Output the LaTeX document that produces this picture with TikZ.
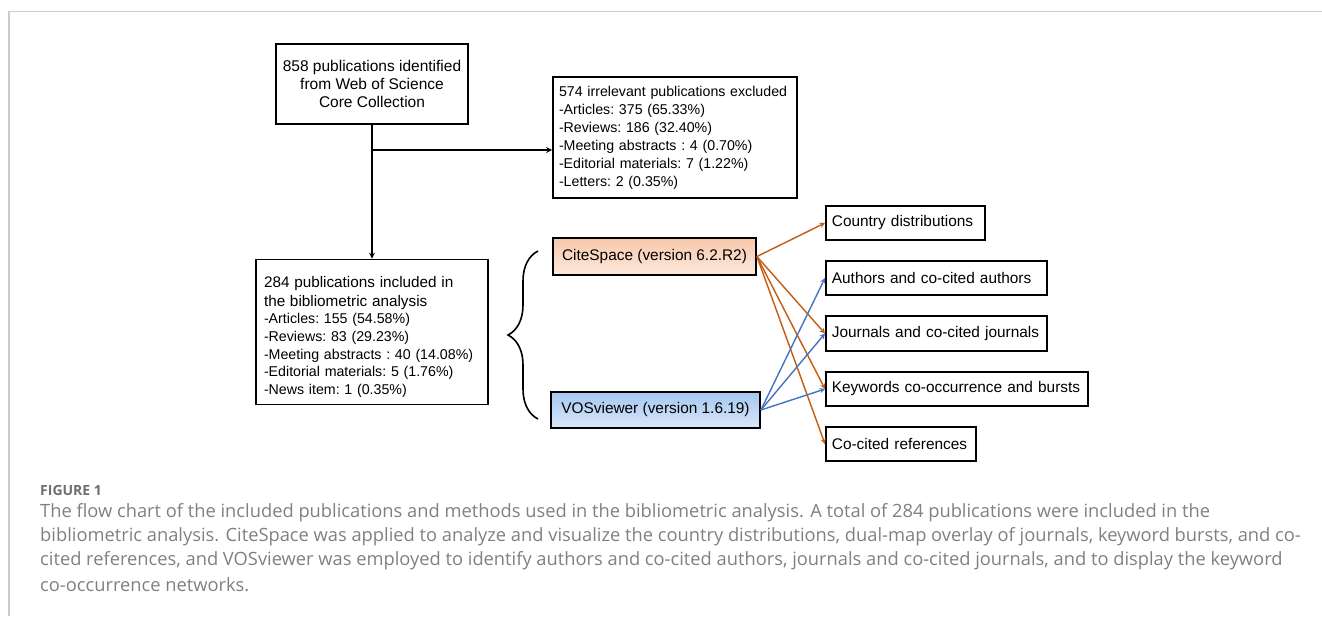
\documentclass[tikz,border=0pt]{standalone}
\usepackage{fontspec}
\setmainfont{Liberation Sans}
\newfontfamily\capfont{Open Sans}
\usetikzlibrary{arrows,positioning,decorations.pathreplacing}
\usepackage{xcolor}
\definecolor{csorange}{RGB}{197,90,17}
\definecolor{vosblue}{RGB}{68,114,196}
\definecolor{cstop}{RGB}{248,200,172}
\definecolor{csbot}{RGB}{252,232,220}
\definecolor{vostop}{RGB}{165,199,240}
\definecolor{vosbot}{RGB}{216,231,250}
\definecolor{capgray}{RGB}{128,128,128}
\definecolor{figgray}{RGB}{110,110,110}
\definecolor{framegray}{RGB}{204,204,204}
\newcommand{\boxfont}{\frenchspacing\hyphenpenalty=10000\relax\fontsize{15.4}{17.5}\selectfont}
\newcommand{\listfont}{\frenchspacing\hyphenpenalty=10000\relax\fontsize{14.2}{17.6}\selectfont}
\newcommand{\headfont}{\fontsize{15.3}{17.6}\selectfont}
\tikzstyle{box} = [draw, line width=1.8pt, inner xsep=6pt, inner ysep=0pt, font=\boxfont]
\tikzstyle{arrow} = [line width=1.6pt,->,>=stealth]
\tikzstyle{csarrow} = [line width=1.4pt,->,>=stealth,color=csorange]
\tikzstyle{vosarrow} = [line width=1.4pt,->,>=stealth,color=vosblue]
\tikzstyle{capline} = [anchor=west, inner sep=0pt, text=capgray, font=\capfont\fontsize{18.3}{18.3}\selectfont]

\begin{document}
\begin{tikzpicture}[x=1pt,y=-1pt]
\useasboundingbox (0,0) rectangle (1322,616);
% frame
\draw[framegray, line width=1.2pt] (9,616) -- (9,11.5) -- (1322,11.5);

% flow chart
\node[box, align=center, minimum width=192pt, minimum height=80pt, font=\boxfont\fontsize{15.5}{18}\selectfont] (found) at (372,84)
  {858 publications identified\\from Web of Science\\Core Collection};
\node[box, align=left, text width=232pt, minimum height=121pt, font=\listfont\fontsize{14.2}{18}\selectfont] (excl) at (675,137.5)
  {574 irrelevant publications excluded\\-Articles: 375 (65.33\%)\\-Reviews: 186 (32.40\%)\\-Meeting abstracts : 4 (0.70\%)\\-Editorial materials: 7 (1.22\%)\\-Letters: 2 (0.35\%)};
\node[box, align=left, text width=216pt, minimum height=145pt, inner xsep=8pt, font=\listfont] (incl) at (372,332)
  {{\headfont\rule{0pt}{21pt}284 publications included in}\\[1pt]{\headfont the bibliometric analysis}\\-Articles: 155 (54.58\%)\\-Reviews: 83 (29.23\%)\\-Meeting abstracts : 40 (14.08\%)\\-Editorial materials: 5 (1.76\%)\\-News item: 1 (0.35\%)};

\coordinate (branch) at (found.south |- 0,150);
\draw[arrow] (found.south) -- (incl.north);
\draw[arrow] (branch) -- (branch -| excl.west);

% brace
\draw[line width=1.6pt, decorate, decoration={brace, amplitude=30pt}] (538,419) -- (538,251);

% tools
\node[box, align=center, minimum width=203pt, minimum height=37pt, top color=cstop, bottom color=csbot] (cs) at (654.5,256.5)
  {CiteSpace (version 6.2.R2)};
\node[box, align=center, minimum width=209pt, minimum height=36pt, top color=vostop, bottom color=vosbot] (vos) at (655.5,410)
  {VOSviewer (version 1.6.19)};

% analyses
\node[box, anchor=west, align=left, text width=147pt, minimum height=34pt] (country) at (825,223) {Country distributions};
\node[box, anchor=west, align=left, text width=209pt, minimum height=34pt] (authors) at (825,278) {Authors and co-cited authors};
\node[box, anchor=west, align=left, text width=209pt, minimum height=35pt] (journals) at (825,333.5) {Journals and co-cited journals};
\node[box, anchor=west, align=left, text width=250pt, minimum height=34pt] (keywords) at (825,389) {Keywords co-occurrence and bursts};
\node[box, anchor=west, align=left, text width=138pt, minimum height=34pt] (refs) at (825,444) {Co-cited references};

\foreach \t in {country,journals,keywords,refs}
  \draw[csarrow] (cs.east) -- (\t.west);
\foreach \t in {authors,journals,keywords}
  \draw[vosarrow] (vos.east) -- (\t.west);

% caption
\node[capline, text=figgray, font=\capfont\bfseries\fontsize{14}{14}\selectfont] (figlabel) at (40,490) {FIGURE 1};
\node[capline] (cap1) at (40,513) {The flow chart of the included publications and methods used in the bibliometric analysis. A total of 284 publications were included in the};
\node[capline] (cap2) at (40,537) {bibliometric analysis. CiteSpace was applied to analyze and visualize the country distributions, dual-map overlay of journals, keyword bursts, and co-};
\node[capline] (cap3) at (40,561) {cited references, and VOSviewer was employed to identify authors and co-cited authors, journals and co-cited journals, and to display the keyword};
\node[capline] (cap4) at (40,585) {co-occurrence networks.};
\end{tikzpicture}
\end{document}
